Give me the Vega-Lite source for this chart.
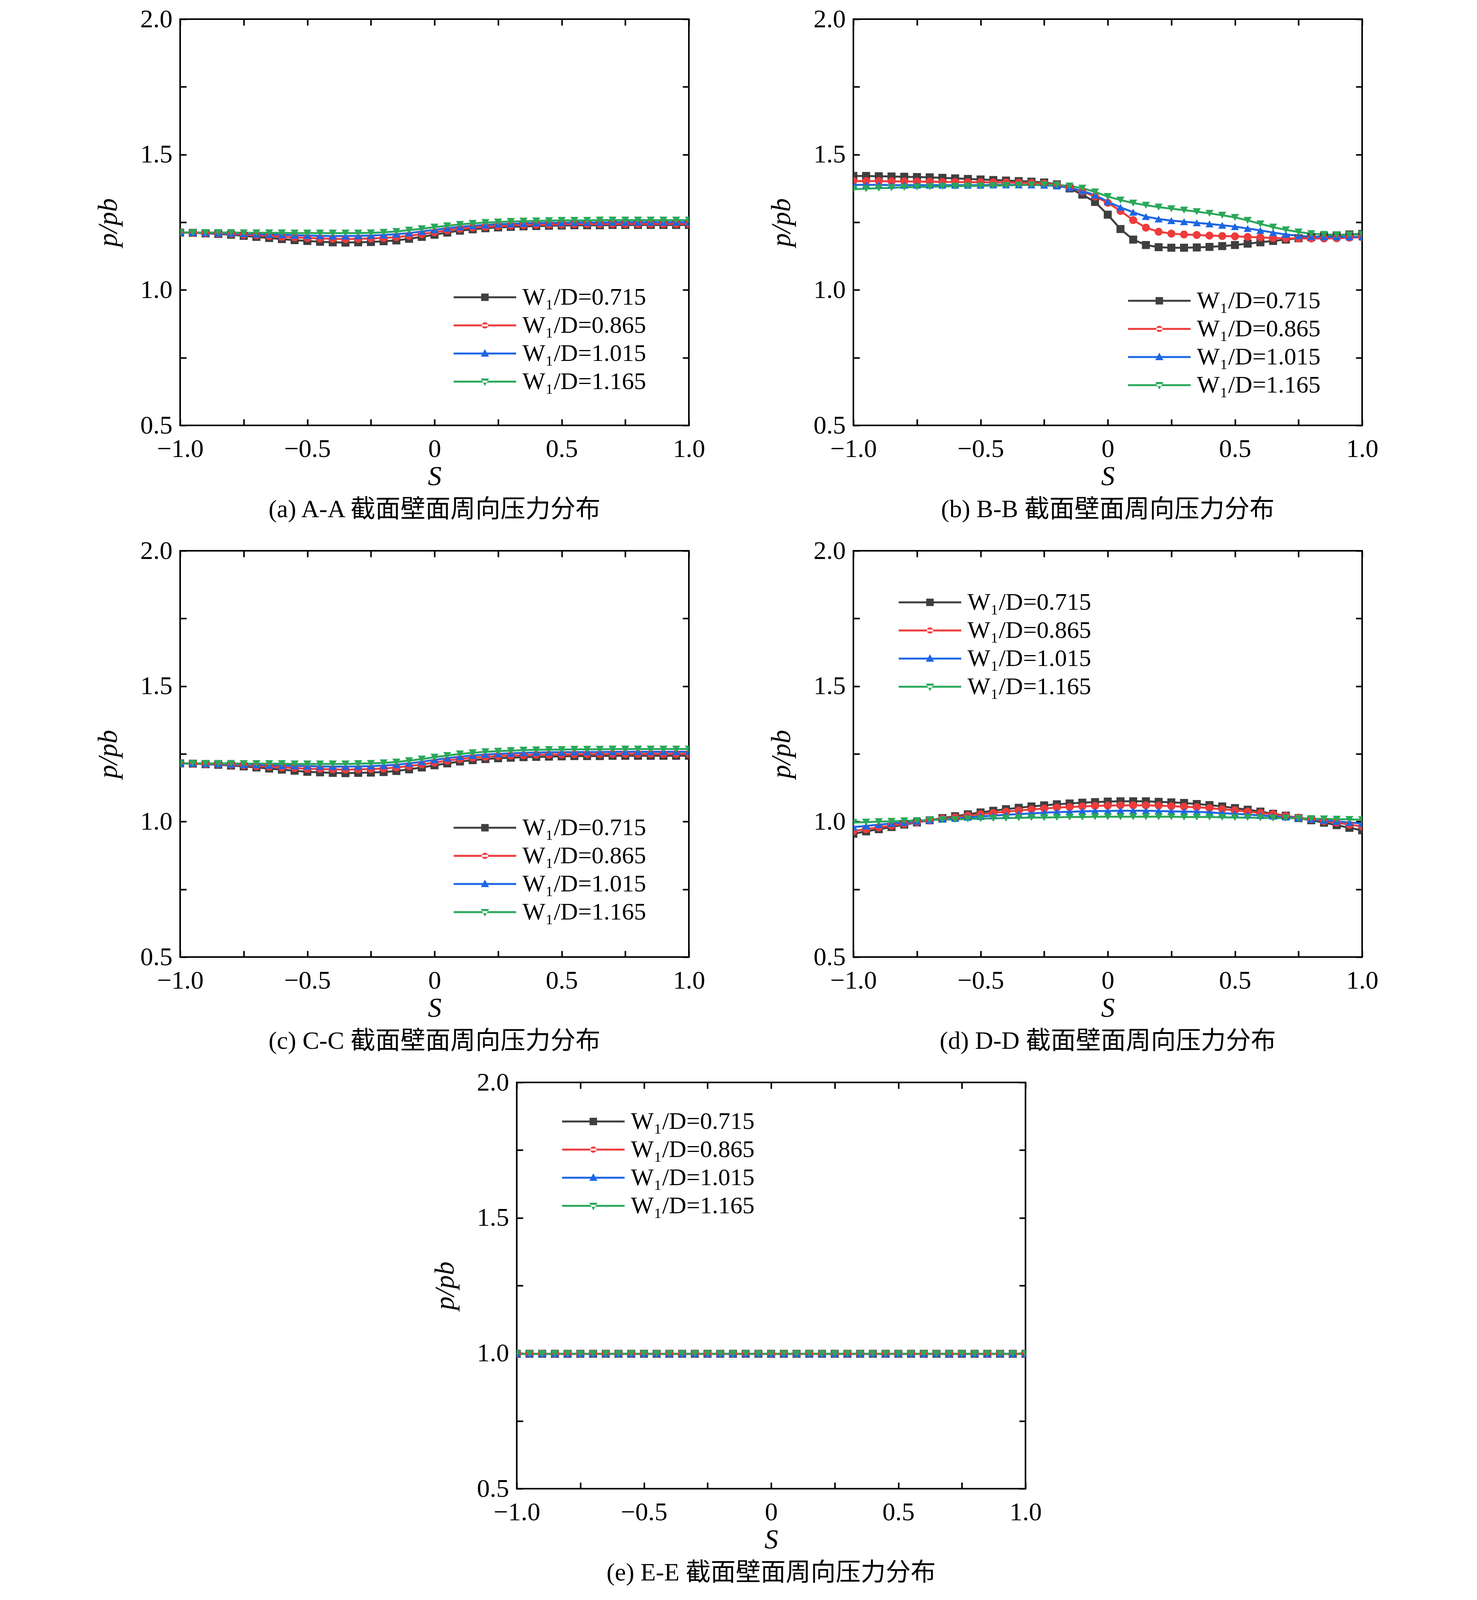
{
  "$schema": "https://vega.github.io/schema/vega-lite/v6.json",
  "background": "white",
  "padding": {"left": 240, "top": 14, "right": 150, "bottom": 0},
  "data": {
    "values": [
      {"p":"a","w":"0.715","s":-1,"v":1.212},{"p":"a","w":"0.715","s":-0.95,"v":1.211},{"p":"a","w":"0.715","s":-0.9,"v":1.209},{"p":"a","w":"0.715","s":-0.85,"v":1.207},{"p":"a","w":"0.715","s":-0.8,"v":1.204},{"p":"a","w":"0.715","s":-0.75,"v":1.2},{"p":"a","w":"0.715","s":-0.7,"v":1.196},{"p":"a","w":"0.715","s":-0.65,"v":1.192},{"p":"a","w":"0.715","s":-0.6,"v":1.188},{"p":"a","w":"0.715","s":-0.55,"v":1.184},{"p":"a","w":"0.715","s":-0.5,"v":1.181},{"p":"a","w":"0.715","s":-0.45,"v":1.178},{"p":"a","w":"0.715","s":-0.4,"v":1.176},{"p":"a","w":"0.715","s":-0.35,"v":1.175},{"p":"a","w":"0.715","s":-0.3,"v":1.176},{"p":"a","w":"0.715","s":-0.25,"v":1.177},{"p":"a","w":"0.715","s":-0.2,"v":1.18},{"p":"a","w":"0.715","s":-0.15,"v":1.183},{"p":"a","w":"0.715","s":-0.1,"v":1.189},{"p":"a","w":"0.715","s":-0.05,"v":1.196},{"p":"a","w":"0.715","s":0,"v":1.204},{"p":"a","w":"0.715","s":0.05,"v":1.212},{"p":"a","w":"0.715","s":0.1,"v":1.219},{"p":"a","w":"0.715","s":0.15,"v":1.224},{"p":"a","w":"0.715","s":0.2,"v":1.228},{"p":"a","w":"0.715","s":0.25,"v":1.231},{"p":"a","w":"0.715","s":0.3,"v":1.233},{"p":"a","w":"0.715","s":0.35,"v":1.235},{"p":"a","w":"0.715","s":0.4,"v":1.236},{"p":"a","w":"0.715","s":0.45,"v":1.237},{"p":"a","w":"0.715","s":0.5,"v":1.238},{"p":"a","w":"0.715","s":0.55,"v":1.239},{"p":"a","w":"0.715","s":0.6,"v":1.239},{"p":"a","w":"0.715","s":0.65,"v":1.239},{"p":"a","w":"0.715","s":0.7,"v":1.24},{"p":"a","w":"0.715","s":0.75,"v":1.24},{"p":"a","w":"0.715","s":0.8,"v":1.24},{"p":"a","w":"0.715","s":0.85,"v":1.24},{"p":"a","w":"0.715","s":0.9,"v":1.24},{"p":"a","w":"0.715","s":0.95,"v":1.24},{"p":"a","w":"0.715","s":1,"v":1.24},
      {"p":"a","w":"0.865","s":-1,"v":1.212},{"p":"a","w":"0.865","s":-0.95,"v":1.211},{"p":"a","w":"0.865","s":-0.9,"v":1.21},{"p":"a","w":"0.865","s":-0.85,"v":1.209},{"p":"a","w":"0.865","s":-0.8,"v":1.207},{"p":"a","w":"0.865","s":-0.75,"v":1.204},{"p":"a","w":"0.865","s":-0.7,"v":1.202},{"p":"a","w":"0.865","s":-0.65,"v":1.199},{"p":"a","w":"0.865","s":-0.6,"v":1.196},{"p":"a","w":"0.865","s":-0.55,"v":1.194},{"p":"a","w":"0.865","s":-0.5,"v":1.192},{"p":"a","w":"0.865","s":-0.45,"v":1.19},{"p":"a","w":"0.865","s":-0.4,"v":1.189},{"p":"a","w":"0.865","s":-0.35,"v":1.188},{"p":"a","w":"0.865","s":-0.3,"v":1.189},{"p":"a","w":"0.865","s":-0.25,"v":1.19},{"p":"a","w":"0.865","s":-0.2,"v":1.192},{"p":"a","w":"0.865","s":-0.15,"v":1.195},{"p":"a","w":"0.865","s":-0.1,"v":1.2},{"p":"a","w":"0.865","s":-0.05,"v":1.206},{"p":"a","w":"0.865","s":0,"v":1.213},{"p":"a","w":"0.865","s":0.05,"v":1.22},{"p":"a","w":"0.865","s":0.1,"v":1.226},{"p":"a","w":"0.865","s":0.15,"v":1.23},{"p":"a","w":"0.865","s":0.2,"v":1.233},{"p":"a","w":"0.865","s":0.25,"v":1.236},{"p":"a","w":"0.865","s":0.3,"v":1.238},{"p":"a","w":"0.865","s":0.35,"v":1.24},{"p":"a","w":"0.865","s":0.4,"v":1.241},{"p":"a","w":"0.865","s":0.45,"v":1.241},{"p":"a","w":"0.865","s":0.5,"v":1.242},{"p":"a","w":"0.865","s":0.55,"v":1.243},{"p":"a","w":"0.865","s":0.6,"v":1.243},{"p":"a","w":"0.865","s":0.65,"v":1.243},{"p":"a","w":"0.865","s":0.7,"v":1.244},{"p":"a","w":"0.865","s":0.75,"v":1.244},{"p":"a","w":"0.865","s":0.8,"v":1.244},{"p":"a","w":"0.865","s":0.85,"v":1.244},{"p":"a","w":"0.865","s":0.9,"v":1.244},{"p":"a","w":"0.865","s":0.95,"v":1.244},{"p":"a","w":"0.865","s":1,"v":1.244},
      {"p":"a","w":"1.015","s":-1,"v":1.212},{"p":"a","w":"1.015","s":-0.95,"v":1.212},{"p":"a","w":"1.015","s":-0.9,"v":1.211},{"p":"a","w":"1.015","s":-0.85,"v":1.21},{"p":"a","w":"1.015","s":-0.8,"v":1.209},{"p":"a","w":"1.015","s":-0.75,"v":1.208},{"p":"a","w":"1.015","s":-0.7,"v":1.206},{"p":"a","w":"1.015","s":-0.65,"v":1.205},{"p":"a","w":"1.015","s":-0.6,"v":1.204},{"p":"a","w":"1.015","s":-0.55,"v":1.202},{"p":"a","w":"1.015","s":-0.5,"v":1.201},{"p":"a","w":"1.015","s":-0.45,"v":1.2},{"p":"a","w":"1.015","s":-0.4,"v":1.199},{"p":"a","w":"1.015","s":-0.35,"v":1.199},{"p":"a","w":"1.015","s":-0.3,"v":1.2},{"p":"a","w":"1.015","s":-0.25,"v":1.201},{"p":"a","w":"1.015","s":-0.2,"v":1.203},{"p":"a","w":"1.015","s":-0.15,"v":1.206},{"p":"a","w":"1.015","s":-0.1,"v":1.21},{"p":"a","w":"1.015","s":-0.05,"v":1.216},{"p":"a","w":"1.015","s":0,"v":1.222},{"p":"a","w":"1.015","s":0.05,"v":1.228},{"p":"a","w":"1.015","s":0.1,"v":1.233},{"p":"a","w":"1.015","s":0.15,"v":1.237},{"p":"a","w":"1.015","s":0.2,"v":1.24},{"p":"a","w":"1.015","s":0.25,"v":1.243},{"p":"a","w":"1.015","s":0.3,"v":1.244},{"p":"a","w":"1.015","s":0.35,"v":1.246},{"p":"a","w":"1.015","s":0.4,"v":1.247},{"p":"a","w":"1.015","s":0.45,"v":1.248},{"p":"a","w":"1.015","s":0.5,"v":1.248},{"p":"a","w":"1.015","s":0.55,"v":1.249},{"p":"a","w":"1.015","s":0.6,"v":1.249},{"p":"a","w":"1.015","s":0.65,"v":1.249},{"p":"a","w":"1.015","s":0.7,"v":1.25},{"p":"a","w":"1.015","s":0.75,"v":1.25},{"p":"a","w":"1.015","s":0.8,"v":1.25},{"p":"a","w":"1.015","s":0.85,"v":1.25},{"p":"a","w":"1.015","s":0.9,"v":1.25},{"p":"a","w":"1.015","s":0.95,"v":1.25},{"p":"a","w":"1.015","s":1,"v":1.25},
      {"p":"a","w":"1.165","s":-1,"v":1.212},{"p":"a","w":"1.165","s":-0.95,"v":1.212},{"p":"a","w":"1.165","s":-0.9,"v":1.212},{"p":"a","w":"1.165","s":-0.85,"v":1.212},{"p":"a","w":"1.165","s":-0.8,"v":1.212},{"p":"a","w":"1.165","s":-0.75,"v":1.211},{"p":"a","w":"1.165","s":-0.7,"v":1.211},{"p":"a","w":"1.165","s":-0.65,"v":1.211},{"p":"a","w":"1.165","s":-0.6,"v":1.211},{"p":"a","w":"1.165","s":-0.55,"v":1.21},{"p":"a","w":"1.165","s":-0.5,"v":1.21},{"p":"a","w":"1.165","s":-0.45,"v":1.21},{"p":"a","w":"1.165","s":-0.4,"v":1.21},{"p":"a","w":"1.165","s":-0.35,"v":1.21},{"p":"a","w":"1.165","s":-0.3,"v":1.21},{"p":"a","w":"1.165","s":-0.25,"v":1.211},{"p":"a","w":"1.165","s":-0.2,"v":1.213},{"p":"a","w":"1.165","s":-0.15,"v":1.216},{"p":"a","w":"1.165","s":-0.1,"v":1.221},{"p":"a","w":"1.165","s":-0.05,"v":1.226},{"p":"a","w":"1.165","s":0,"v":1.232},{"p":"a","w":"1.165","s":0.05,"v":1.237},{"p":"a","w":"1.165","s":0.1,"v":1.242},{"p":"a","w":"1.165","s":0.15,"v":1.246},{"p":"a","w":"1.165","s":0.2,"v":1.249},{"p":"a","w":"1.165","s":0.25,"v":1.251},{"p":"a","w":"1.165","s":0.3,"v":1.253},{"p":"a","w":"1.165","s":0.35,"v":1.254},{"p":"a","w":"1.165","s":0.4,"v":1.255},{"p":"a","w":"1.165","s":0.45,"v":1.256},{"p":"a","w":"1.165","s":0.5,"v":1.257},{"p":"a","w":"1.165","s":0.55,"v":1.257},{"p":"a","w":"1.165","s":0.6,"v":1.257},{"p":"a","w":"1.165","s":0.65,"v":1.258},{"p":"a","w":"1.165","s":0.7,"v":1.258},{"p":"a","w":"1.165","s":0.75,"v":1.258},{"p":"a","w":"1.165","s":0.8,"v":1.258},{"p":"a","w":"1.165","s":0.85,"v":1.258},{"p":"a","w":"1.165","s":0.9,"v":1.258},{"p":"a","w":"1.165","s":0.95,"v":1.258},{"p":"a","w":"1.165","s":1,"v":1.258},
      {"p":"b","w":"0.715","s":-1,"v":1.421},{"p":"b","w":"0.715","s":-0.95,"v":1.421},{"p":"b","w":"0.715","s":-0.9,"v":1.42},{"p":"b","w":"0.715","s":-0.85,"v":1.419},{"p":"b","w":"0.715","s":-0.8,"v":1.418},{"p":"b","w":"0.715","s":-0.75,"v":1.417},{"p":"b","w":"0.715","s":-0.7,"v":1.416},{"p":"b","w":"0.715","s":-0.65,"v":1.414},{"p":"b","w":"0.715","s":-0.6,"v":1.412},{"p":"b","w":"0.715","s":-0.55,"v":1.41},{"p":"b","w":"0.715","s":-0.5,"v":1.408},{"p":"b","w":"0.715","s":-0.45,"v":1.406},{"p":"b","w":"0.715","s":-0.4,"v":1.404},{"p":"b","w":"0.715","s":-0.35,"v":1.402},{"p":"b","w":"0.715","s":-0.3,"v":1.4},{"p":"b","w":"0.715","s":-0.25,"v":1.397},{"p":"b","w":"0.715","s":-0.2,"v":1.39},{"p":"b","w":"0.715","s":-0.15,"v":1.375},{"p":"b","w":"0.715","s":-0.1,"v":1.352},{"p":"b","w":"0.715","s":-0.05,"v":1.325},{"p":"b","w":"0.715","s":0,"v":1.278},{"p":"b","w":"0.715","s":0.05,"v":1.225},{"p":"b","w":"0.715","s":0.1,"v":1.186},{"p":"b","w":"0.715","s":0.15,"v":1.166},{"p":"b","w":"0.715","s":0.2,"v":1.158},{"p":"b","w":"0.715","s":0.25,"v":1.156},{"p":"b","w":"0.715","s":0.3,"v":1.156},{"p":"b","w":"0.715","s":0.35,"v":1.157},{"p":"b","w":"0.715","s":0.4,"v":1.159},{"p":"b","w":"0.715","s":0.45,"v":1.162},{"p":"b","w":"0.715","s":0.5,"v":1.166},{"p":"b","w":"0.715","s":0.55,"v":1.171},{"p":"b","w":"0.715","s":0.6,"v":1.176},{"p":"b","w":"0.715","s":0.65,"v":1.181},{"p":"b","w":"0.715","s":0.7,"v":1.186},{"p":"b","w":"0.715","s":0.75,"v":1.191},{"p":"b","w":"0.715","s":0.8,"v":1.195},{"p":"b","w":"0.715","s":0.85,"v":1.199},{"p":"b","w":"0.715","s":0.9,"v":1.202},{"p":"b","w":"0.715","s":0.95,"v":1.205},{"p":"b","w":"0.715","s":1,"v":1.207},
      {"p":"b","w":"0.865","s":-1,"v":1.402},{"p":"b","w":"0.865","s":-0.95,"v":1.402},{"p":"b","w":"0.865","s":-0.9,"v":1.402},{"p":"b","w":"0.865","s":-0.85,"v":1.401},{"p":"b","w":"0.865","s":-0.8,"v":1.401},{"p":"b","w":"0.865","s":-0.75,"v":1.4},{"p":"b","w":"0.865","s":-0.7,"v":1.4},{"p":"b","w":"0.865","s":-0.65,"v":1.399},{"p":"b","w":"0.865","s":-0.6,"v":1.399},{"p":"b","w":"0.865","s":-0.55,"v":1.398},{"p":"b","w":"0.865","s":-0.5,"v":1.398},{"p":"b","w":"0.865","s":-0.45,"v":1.397},{"p":"b","w":"0.865","s":-0.4,"v":1.397},{"p":"b","w":"0.865","s":-0.35,"v":1.396},{"p":"b","w":"0.865","s":-0.3,"v":1.395},{"p":"b","w":"0.865","s":-0.25,"v":1.393},{"p":"b","w":"0.865","s":-0.2,"v":1.388},{"p":"b","w":"0.865","s":-0.15,"v":1.378},{"p":"b","w":"0.865","s":-0.1,"v":1.364},{"p":"b","w":"0.865","s":-0.05,"v":1.345},{"p":"b","w":"0.865","s":0,"v":1.322},{"p":"b","w":"0.865","s":0.05,"v":1.292},{"p":"b","w":"0.865","s":0.1,"v":1.258},{"p":"b","w":"0.865","s":0.15,"v":1.23},{"p":"b","w":"0.865","s":0.2,"v":1.215},{"p":"b","w":"0.865","s":0.25,"v":1.208},{"p":"b","w":"0.865","s":0.3,"v":1.205},{"p":"b","w":"0.865","s":0.35,"v":1.203},{"p":"b","w":"0.865","s":0.4,"v":1.201},{"p":"b","w":"0.865","s":0.45,"v":1.199},{"p":"b","w":"0.865","s":0.5,"v":1.198},{"p":"b","w":"0.865","s":0.55,"v":1.196},{"p":"b","w":"0.865","s":0.6,"v":1.194},{"p":"b","w":"0.865","s":0.65,"v":1.192},{"p":"b","w":"0.865","s":0.7,"v":1.191},{"p":"b","w":"0.865","s":0.75,"v":1.19},{"p":"b","w":"0.865","s":0.8,"v":1.19},{"p":"b","w":"0.865","s":0.85,"v":1.19},{"p":"b","w":"0.865","s":0.9,"v":1.191},{"p":"b","w":"0.865","s":0.95,"v":1.193},{"p":"b","w":"0.865","s":1,"v":1.195},
      {"p":"b","w":"1.015","s":-1,"v":1.388},{"p":"b","w":"1.015","s":-0.95,"v":1.388},{"p":"b","w":"1.015","s":-0.9,"v":1.388},{"p":"b","w":"1.015","s":-0.85,"v":1.387},{"p":"b","w":"1.015","s":-0.8,"v":1.387},{"p":"b","w":"1.015","s":-0.75,"v":1.387},{"p":"b","w":"1.015","s":-0.7,"v":1.387},{"p":"b","w":"1.015","s":-0.65,"v":1.387},{"p":"b","w":"1.015","s":-0.6,"v":1.387},{"p":"b","w":"1.015","s":-0.55,"v":1.387},{"p":"b","w":"1.015","s":-0.5,"v":1.387},{"p":"b","w":"1.015","s":-0.45,"v":1.388},{"p":"b","w":"1.015","s":-0.4,"v":1.388},{"p":"b","w":"1.015","s":-0.35,"v":1.388},{"p":"b","w":"1.015","s":-0.3,"v":1.388},{"p":"b","w":"1.015","s":-0.25,"v":1.387},{"p":"b","w":"1.015","s":-0.2,"v":1.384},{"p":"b","w":"1.015","s":-0.15,"v":1.377},{"p":"b","w":"1.015","s":-0.1,"v":1.366},{"p":"b","w":"1.015","s":-0.05,"v":1.35},{"p":"b","w":"1.015","s":0,"v":1.326},{"p":"b","w":"1.015","s":0.05,"v":1.305},{"p":"b","w":"1.015","s":0.1,"v":1.287},{"p":"b","w":"1.015","s":0.15,"v":1.271},{"p":"b","w":"1.015","s":0.2,"v":1.262},{"p":"b","w":"1.015","s":0.25,"v":1.256},{"p":"b","w":"1.015","s":0.3,"v":1.252},{"p":"b","w":"1.015","s":0.35,"v":1.248},{"p":"b","w":"1.015","s":0.4,"v":1.244},{"p":"b","w":"1.015","s":0.45,"v":1.239},{"p":"b","w":"1.015","s":0.5,"v":1.234},{"p":"b","w":"1.015","s":0.55,"v":1.227},{"p":"b","w":"1.015","s":0.6,"v":1.22},{"p":"b","w":"1.015","s":0.65,"v":1.212},{"p":"b","w":"1.015","s":0.7,"v":1.205},{"p":"b","w":"1.015","s":0.75,"v":1.2},{"p":"b","w":"1.015","s":0.8,"v":1.197},{"p":"b","w":"1.015","s":0.85,"v":1.196},{"p":"b","w":"1.015","s":0.9,"v":1.196},{"p":"b","w":"1.015","s":0.95,"v":1.196},{"p":"b","w":"1.015","s":1,"v":1.196},
      {"p":"b","w":"1.165","s":-1,"v":1.372},{"p":"b","w":"1.165","s":-0.95,"v":1.374},{"p":"b","w":"1.165","s":-0.9,"v":1.376},{"p":"b","w":"1.165","s":-0.85,"v":1.377},{"p":"b","w":"1.165","s":-0.8,"v":1.379},{"p":"b","w":"1.165","s":-0.75,"v":1.38},{"p":"b","w":"1.165","s":-0.7,"v":1.381},{"p":"b","w":"1.165","s":-0.65,"v":1.382},{"p":"b","w":"1.165","s":-0.6,"v":1.383},{"p":"b","w":"1.165","s":-0.55,"v":1.384},{"p":"b","w":"1.165","s":-0.5,"v":1.384},{"p":"b","w":"1.165","s":-0.45,"v":1.385},{"p":"b","w":"1.165","s":-0.4,"v":1.386},{"p":"b","w":"1.165","s":-0.35,"v":1.387},{"p":"b","w":"1.165","s":-0.3,"v":1.388},{"p":"b","w":"1.165","s":-0.25,"v":1.389},{"p":"b","w":"1.165","s":-0.2,"v":1.388},{"p":"b","w":"1.165","s":-0.15,"v":1.384},{"p":"b","w":"1.165","s":-0.1,"v":1.376},{"p":"b","w":"1.165","s":-0.05,"v":1.362},{"p":"b","w":"1.165","s":0,"v":1.345},{"p":"b","w":"1.165","s":0.05,"v":1.332},{"p":"b","w":"1.165","s":0.1,"v":1.321},{"p":"b","w":"1.165","s":0.15,"v":1.313},{"p":"b","w":"1.165","s":0.2,"v":1.306},{"p":"b","w":"1.165","s":0.25,"v":1.3},{"p":"b","w":"1.165","s":0.3,"v":1.295},{"p":"b","w":"1.165","s":0.35,"v":1.289},{"p":"b","w":"1.165","s":0.4,"v":1.283},{"p":"b","w":"1.165","s":0.45,"v":1.276},{"p":"b","w":"1.165","s":0.5,"v":1.268},{"p":"b","w":"1.165","s":0.55,"v":1.257},{"p":"b","w":"1.165","s":0.6,"v":1.244},{"p":"b","w":"1.165","s":0.65,"v":1.232},{"p":"b","w":"1.165","s":0.7,"v":1.222},{"p":"b","w":"1.165","s":0.75,"v":1.214},{"p":"b","w":"1.165","s":0.8,"v":1.208},{"p":"b","w":"1.165","s":0.85,"v":1.205},{"p":"b","w":"1.165","s":0.9,"v":1.204},{"p":"b","w":"1.165","s":0.95,"v":1.204},{"p":"b","w":"1.165","s":1,"v":1.205},
      {"p":"c","w":"0.715","s":-1,"v":1.215},{"p":"c","w":"0.715","s":-0.95,"v":1.214},{"p":"c","w":"0.715","s":-0.9,"v":1.212},{"p":"c","w":"0.715","s":-0.85,"v":1.21},{"p":"c","w":"0.715","s":-0.8,"v":1.207},{"p":"c","w":"0.715","s":-0.75,"v":1.204},{"p":"c","w":"0.715","s":-0.7,"v":1.2},{"p":"c","w":"0.715","s":-0.65,"v":1.196},{"p":"c","w":"0.715","s":-0.6,"v":1.192},{"p":"c","w":"0.715","s":-0.55,"v":1.188},{"p":"c","w":"0.715","s":-0.5,"v":1.184},{"p":"c","w":"0.715","s":-0.45,"v":1.182},{"p":"c","w":"0.715","s":-0.4,"v":1.18},{"p":"c","w":"0.715","s":-0.35,"v":1.179},{"p":"c","w":"0.715","s":-0.3,"v":1.18},{"p":"c","w":"0.715","s":-0.25,"v":1.181},{"p":"c","w":"0.715","s":-0.2,"v":1.183},{"p":"c","w":"0.715","s":-0.15,"v":1.187},{"p":"c","w":"0.715","s":-0.1,"v":1.193},{"p":"c","w":"0.715","s":-0.05,"v":1.2},{"p":"c","w":"0.715","s":0,"v":1.208},{"p":"c","w":"0.715","s":0.05,"v":1.215},{"p":"c","w":"0.715","s":0.1,"v":1.222},{"p":"c","w":"0.715","s":0.15,"v":1.227},{"p":"c","w":"0.715","s":0.2,"v":1.231},{"p":"c","w":"0.715","s":0.25,"v":1.234},{"p":"c","w":"0.715","s":0.3,"v":1.236},{"p":"c","w":"0.715","s":0.35,"v":1.238},{"p":"c","w":"0.715","s":0.4,"v":1.239},{"p":"c","w":"0.715","s":0.45,"v":1.24},{"p":"c","w":"0.715","s":0.5,"v":1.241},{"p":"c","w":"0.715","s":0.55,"v":1.242},{"p":"c","w":"0.715","s":0.6,"v":1.242},{"p":"c","w":"0.715","s":0.65,"v":1.242},{"p":"c","w":"0.715","s":0.7,"v":1.243},{"p":"c","w":"0.715","s":0.75,"v":1.243},{"p":"c","w":"0.715","s":0.8,"v":1.243},{"p":"c","w":"0.715","s":0.85,"v":1.243},{"p":"c","w":"0.715","s":0.9,"v":1.243},{"p":"c","w":"0.715","s":0.95,"v":1.243},{"p":"c","w":"0.715","s":1,"v":1.243},
      {"p":"c","w":"0.865","s":-1,"v":1.215},{"p":"c","w":"0.865","s":-0.95,"v":1.214},{"p":"c","w":"0.865","s":-0.9,"v":1.213},{"p":"c","w":"0.865","s":-0.85,"v":1.212},{"p":"c","w":"0.865","s":-0.8,"v":1.21},{"p":"c","w":"0.865","s":-0.75,"v":1.208},{"p":"c","w":"0.865","s":-0.7,"v":1.205},{"p":"c","w":"0.865","s":-0.65,"v":1.203},{"p":"c","w":"0.865","s":-0.6,"v":1.2},{"p":"c","w":"0.865","s":-0.55,"v":1.198},{"p":"c","w":"0.865","s":-0.5,"v":1.195},{"p":"c","w":"0.865","s":-0.45,"v":1.194},{"p":"c","w":"0.865","s":-0.4,"v":1.193},{"p":"c","w":"0.865","s":-0.35,"v":1.192},{"p":"c","w":"0.865","s":-0.3,"v":1.193},{"p":"c","w":"0.865","s":-0.25,"v":1.194},{"p":"c","w":"0.865","s":-0.2,"v":1.196},{"p":"c","w":"0.865","s":-0.15,"v":1.2},{"p":"c","w":"0.865","s":-0.1,"v":1.205},{"p":"c","w":"0.865","s":-0.05,"v":1.211},{"p":"c","w":"0.865","s":0,"v":1.218},{"p":"c","w":"0.865","s":0.05,"v":1.225},{"p":"c","w":"0.865","s":0.1,"v":1.231},{"p":"c","w":"0.865","s":0.15,"v":1.236},{"p":"c","w":"0.865","s":0.2,"v":1.239},{"p":"c","w":"0.865","s":0.25,"v":1.242},{"p":"c","w":"0.865","s":0.3,"v":1.244},{"p":"c","w":"0.865","s":0.35,"v":1.245},{"p":"c","w":"0.865","s":0.4,"v":1.247},{"p":"c","w":"0.865","s":0.45,"v":1.247},{"p":"c","w":"0.865","s":0.5,"v":1.248},{"p":"c","w":"0.865","s":0.55,"v":1.249},{"p":"c","w":"0.865","s":0.6,"v":1.249},{"p":"c","w":"0.865","s":0.65,"v":1.249},{"p":"c","w":"0.865","s":0.7,"v":1.25},{"p":"c","w":"0.865","s":0.75,"v":1.25},{"p":"c","w":"0.865","s":0.8,"v":1.25},{"p":"c","w":"0.865","s":0.85,"v":1.25},{"p":"c","w":"0.865","s":0.9,"v":1.25},{"p":"c","w":"0.865","s":0.95,"v":1.25},{"p":"c","w":"0.865","s":1,"v":1.25},
      {"p":"c","w":"1.015","s":-1,"v":1.215},{"p":"c","w":"1.015","s":-0.95,"v":1.215},{"p":"c","w":"1.015","s":-0.9,"v":1.214},{"p":"c","w":"1.015","s":-0.85,"v":1.213},{"p":"c","w":"1.015","s":-0.8,"v":1.212},{"p":"c","w":"1.015","s":-0.75,"v":1.211},{"p":"c","w":"1.015","s":-0.7,"v":1.21},{"p":"c","w":"1.015","s":-0.65,"v":1.208},{"p":"c","w":"1.015","s":-0.6,"v":1.207},{"p":"c","w":"1.015","s":-0.55,"v":1.206},{"p":"c","w":"1.015","s":-0.5,"v":1.205},{"p":"c","w":"1.015","s":-0.45,"v":1.204},{"p":"c","w":"1.015","s":-0.4,"v":1.203},{"p":"c","w":"1.015","s":-0.35,"v":1.203},{"p":"c","w":"1.015","s":-0.3,"v":1.204},{"p":"c","w":"1.015","s":-0.25,"v":1.205},{"p":"c","w":"1.015","s":-0.2,"v":1.207},{"p":"c","w":"1.015","s":-0.15,"v":1.21},{"p":"c","w":"1.015","s":-0.1,"v":1.215},{"p":"c","w":"1.015","s":-0.05,"v":1.221},{"p":"c","w":"1.015","s":0,"v":1.228},{"p":"c","w":"1.015","s":0.05,"v":1.234},{"p":"c","w":"1.015","s":0.1,"v":1.24},{"p":"c","w":"1.015","s":0.15,"v":1.244},{"p":"c","w":"1.015","s":0.2,"v":1.248},{"p":"c","w":"1.015","s":0.25,"v":1.25},{"p":"c","w":"1.015","s":0.3,"v":1.252},{"p":"c","w":"1.015","s":0.35,"v":1.254},{"p":"c","w":"1.015","s":0.4,"v":1.255},{"p":"c","w":"1.015","s":0.45,"v":1.256},{"p":"c","w":"1.015","s":0.5,"v":1.256},{"p":"c","w":"1.015","s":0.55,"v":1.257},{"p":"c","w":"1.015","s":0.6,"v":1.257},{"p":"c","w":"1.015","s":0.65,"v":1.257},{"p":"c","w":"1.015","s":0.7,"v":1.258},{"p":"c","w":"1.015","s":0.75,"v":1.258},{"p":"c","w":"1.015","s":0.8,"v":1.258},{"p":"c","w":"1.015","s":0.85,"v":1.258},{"p":"c","w":"1.015","s":0.9,"v":1.258},{"p":"c","w":"1.015","s":0.95,"v":1.258},{"p":"c","w":"1.015","s":1,"v":1.258},
      {"p":"c","w":"1.165","s":-1,"v":1.215},{"p":"c","w":"1.165","s":-0.95,"v":1.215},{"p":"c","w":"1.165","s":-0.9,"v":1.215},{"p":"c","w":"1.165","s":-0.85,"v":1.215},{"p":"c","w":"1.165","s":-0.8,"v":1.215},{"p":"c","w":"1.165","s":-0.75,"v":1.214},{"p":"c","w":"1.165","s":-0.7,"v":1.214},{"p":"c","w":"1.165","s":-0.65,"v":1.214},{"p":"c","w":"1.165","s":-0.6,"v":1.214},{"p":"c","w":"1.165","s":-0.55,"v":1.213},{"p":"c","w":"1.165","s":-0.5,"v":1.213},{"p":"c","w":"1.165","s":-0.45,"v":1.213},{"p":"c","w":"1.165","s":-0.4,"v":1.213},{"p":"c","w":"1.165","s":-0.35,"v":1.213},{"p":"c","w":"1.165","s":-0.3,"v":1.214},{"p":"c","w":"1.165","s":-0.25,"v":1.215},{"p":"c","w":"1.165","s":-0.2,"v":1.217},{"p":"c","w":"1.165","s":-0.15,"v":1.22},{"p":"c","w":"1.165","s":-0.1,"v":1.225},{"p":"c","w":"1.165","s":-0.05,"v":1.231},{"p":"c","w":"1.165","s":0,"v":1.238},{"p":"c","w":"1.165","s":0.05,"v":1.244},{"p":"c","w":"1.165","s":0.1,"v":1.25},{"p":"c","w":"1.165","s":0.15,"v":1.254},{"p":"c","w":"1.165","s":0.2,"v":1.258},{"p":"c","w":"1.165","s":0.25,"v":1.26},{"p":"c","w":"1.165","s":0.3,"v":1.262},{"p":"c","w":"1.165","s":0.35,"v":1.264},{"p":"c","w":"1.165","s":0.4,"v":1.265},{"p":"c","w":"1.165","s":0.45,"v":1.266},{"p":"c","w":"1.165","s":0.5,"v":1.266},{"p":"c","w":"1.165","s":0.55,"v":1.267},{"p":"c","w":"1.165","s":0.6,"v":1.267},{"p":"c","w":"1.165","s":0.65,"v":1.267},{"p":"c","w":"1.165","s":0.7,"v":1.268},{"p":"c","w":"1.165","s":0.75,"v":1.268},{"p":"c","w":"1.165","s":0.8,"v":1.268},{"p":"c","w":"1.165","s":0.85,"v":1.268},{"p":"c","w":"1.165","s":0.9,"v":1.268},{"p":"c","w":"1.165","s":0.95,"v":1.268},{"p":"c","w":"1.165","s":1,"v":1.268},
      {"p":"d","w":"0.715","s":-1,"v":0.955},{"p":"d","w":"0.715","s":-0.95,"v":0.964},{"p":"d","w":"0.715","s":-0.9,"v":0.972},{"p":"d","w":"0.715","s":-0.85,"v":0.98},{"p":"d","w":"0.715","s":-0.8,"v":0.989},{"p":"d","w":"0.715","s":-0.75,"v":0.997},{"p":"d","w":"0.715","s":-0.7,"v":1.005},{"p":"d","w":"0.715","s":-0.65,"v":1.013},{"p":"d","w":"0.715","s":-0.6,"v":1.02},{"p":"d","w":"0.715","s":-0.55,"v":1.027},{"p":"d","w":"0.715","s":-0.5,"v":1.034},{"p":"d","w":"0.715","s":-0.45,"v":1.04},{"p":"d","w":"0.715","s":-0.4,"v":1.046},{"p":"d","w":"0.715","s":-0.35,"v":1.051},{"p":"d","w":"0.715","s":-0.3,"v":1.056},{"p":"d","w":"0.715","s":-0.25,"v":1.06},{"p":"d","w":"0.715","s":-0.2,"v":1.064},{"p":"d","w":"0.715","s":-0.15,"v":1.067},{"p":"d","w":"0.715","s":-0.1,"v":1.07},{"p":"d","w":"0.715","s":-0.05,"v":1.072},{"p":"d","w":"0.715","s":0,"v":1.074},{"p":"d","w":"0.715","s":0.05,"v":1.075},{"p":"d","w":"0.715","s":0.1,"v":1.075},{"p":"d","w":"0.715","s":0.15,"v":1.075},{"p":"d","w":"0.715","s":0.2,"v":1.073},{"p":"d","w":"0.715","s":0.25,"v":1.071},{"p":"d","w":"0.715","s":0.3,"v":1.069},{"p":"d","w":"0.715","s":0.35,"v":1.065},{"p":"d","w":"0.715","s":0.4,"v":1.061},{"p":"d","w":"0.715","s":0.45,"v":1.056},{"p":"d","w":"0.715","s":0.5,"v":1.05},{"p":"d","w":"0.715","s":0.55,"v":1.044},{"p":"d","w":"0.715","s":0.6,"v":1.037},{"p":"d","w":"0.715","s":0.65,"v":1.029},{"p":"d","w":"0.715","s":0.7,"v":1.022},{"p":"d","w":"0.715","s":0.75,"v":1.013},{"p":"d","w":"0.715","s":0.8,"v":1.005},{"p":"d","w":"0.715","s":0.85,"v":0.996},{"p":"d","w":"0.715","s":0.9,"v":0.987},{"p":"d","w":"0.715","s":0.95,"v":0.977},{"p":"d","w":"0.715","s":1,"v":0.968},
      {"p":"d","w":"0.865","s":-1,"v":0.965},{"p":"d","w":"0.865","s":-0.95,"v":0.972},{"p":"d","w":"0.865","s":-0.9,"v":0.979},{"p":"d","w":"0.865","s":-0.85,"v":0.985},{"p":"d","w":"0.865","s":-0.8,"v":0.992},{"p":"d","w":"0.865","s":-0.75,"v":0.998},{"p":"d","w":"0.865","s":-0.7,"v":1.004},{"p":"d","w":"0.865","s":-0.65,"v":1.011},{"p":"d","w":"0.865","s":-0.6,"v":1.016},{"p":"d","w":"0.865","s":-0.55,"v":1.022},{"p":"d","w":"0.865","s":-0.5,"v":1.027},{"p":"d","w":"0.865","s":-0.45,"v":1.032},{"p":"d","w":"0.865","s":-0.4,"v":1.037},{"p":"d","w":"0.865","s":-0.35,"v":1.041},{"p":"d","w":"0.865","s":-0.3,"v":1.045},{"p":"d","w":"0.865","s":-0.25,"v":1.048},{"p":"d","w":"0.865","s":-0.2,"v":1.052},{"p":"d","w":"0.865","s":-0.15,"v":1.054},{"p":"d","w":"0.865","s":-0.1,"v":1.056},{"p":"d","w":"0.865","s":-0.05,"v":1.058},{"p":"d","w":"0.865","s":0,"v":1.059},{"p":"d","w":"0.865","s":0.05,"v":1.06},{"p":"d","w":"0.865","s":0.1,"v":1.06},{"p":"d","w":"0.865","s":0.15,"v":1.06},{"p":"d","w":"0.865","s":0.2,"v":1.059},{"p":"d","w":"0.865","s":0.25,"v":1.057},{"p":"d","w":"0.865","s":0.3,"v":1.055},{"p":"d","w":"0.865","s":0.35,"v":1.053},{"p":"d","w":"0.865","s":0.4,"v":1.05},{"p":"d","w":"0.865","s":0.45,"v":1.046},{"p":"d","w":"0.865","s":0.5,"v":1.042},{"p":"d","w":"0.865","s":0.55,"v":1.037},{"p":"d","w":"0.865","s":0.6,"v":1.032},{"p":"d","w":"0.865","s":0.65,"v":1.027},{"p":"d","w":"0.865","s":0.7,"v":1.021},{"p":"d","w":"0.865","s":0.75,"v":1.015},{"p":"d","w":"0.865","s":0.8,"v":1.009},{"p":"d","w":"0.865","s":0.85,"v":1.002},{"p":"d","w":"0.865","s":0.9,"v":0.996},{"p":"d","w":"0.865","s":0.95,"v":0.989},{"p":"d","w":"0.865","s":1,"v":0.982},
      {"p":"d","w":"1.015","s":-1,"v":0.98},{"p":"d","w":"1.015","s":-0.95,"v":0.984},{"p":"d","w":"1.015","s":-0.9,"v":0.989},{"p":"d","w":"1.015","s":-0.85,"v":0.993},{"p":"d","w":"1.015","s":-0.8,"v":0.997},{"p":"d","w":"1.015","s":-0.75,"v":1.001},{"p":"d","w":"1.015","s":-0.7,"v":1.005},{"p":"d","w":"1.015","s":-0.65,"v":1.009},{"p":"d","w":"1.015","s":-0.6,"v":1.012},{"p":"d","w":"1.015","s":-0.55,"v":1.016},{"p":"d","w":"1.015","s":-0.5,"v":1.019},{"p":"d","w":"1.015","s":-0.45,"v":1.022},{"p":"d","w":"1.015","s":-0.4,"v":1.025},{"p":"d","w":"1.015","s":-0.35,"v":1.028},{"p":"d","w":"1.015","s":-0.3,"v":1.03},{"p":"d","w":"1.015","s":-0.25,"v":1.033},{"p":"d","w":"1.015","s":-0.2,"v":1.035},{"p":"d","w":"1.015","s":-0.15,"v":1.036},{"p":"d","w":"1.015","s":-0.1,"v":1.038},{"p":"d","w":"1.015","s":-0.05,"v":1.039},{"p":"d","w":"1.015","s":0,"v":1.039},{"p":"d","w":"1.015","s":0.05,"v":1.04},{"p":"d","w":"1.015","s":0.1,"v":1.04},{"p":"d","w":"1.015","s":0.15,"v":1.04},{"p":"d","w":"1.015","s":0.2,"v":1.039},{"p":"d","w":"1.015","s":0.25,"v":1.038},{"p":"d","w":"1.015","s":0.3,"v":1.037},{"p":"d","w":"1.015","s":0.35,"v":1.036},{"p":"d","w":"1.015","s":0.4,"v":1.034},{"p":"d","w":"1.015","s":0.45,"v":1.031},{"p":"d","w":"1.015","s":0.5,"v":1.029},{"p":"d","w":"1.015","s":0.55,"v":1.026},{"p":"d","w":"1.015","s":0.6,"v":1.023},{"p":"d","w":"1.015","s":0.65,"v":1.02},{"p":"d","w":"1.015","s":0.7,"v":1.017},{"p":"d","w":"1.015","s":0.75,"v":1.013},{"p":"d","w":"1.015","s":0.8,"v":1.009},{"p":"d","w":"1.015","s":0.85,"v":1.005},{"p":"d","w":"1.015","s":0.9,"v":1.001},{"p":"d","w":"1.015","s":0.95,"v":0.997},{"p":"d","w":"1.015","s":1,"v":0.993},
      {"p":"d","w":"1.165","s":-1,"v":0.997},{"p":"d","w":"1.165","s":-0.95,"v":0.998},{"p":"d","w":"1.165","s":-0.9,"v":1},{"p":"d","w":"1.165","s":-0.85,"v":1.001},{"p":"d","w":"1.165","s":-0.8,"v":1.003},{"p":"d","w":"1.165","s":-0.75,"v":1.004},{"p":"d","w":"1.165","s":-0.7,"v":1.006},{"p":"d","w":"1.165","s":-0.65,"v":1.007},{"p":"d","w":"1.165","s":-0.6,"v":1.008},{"p":"d","w":"1.165","s":-0.55,"v":1.01},{"p":"d","w":"1.165","s":-0.5,"v":1.011},{"p":"d","w":"1.165","s":-0.45,"v":1.012},{"p":"d","w":"1.165","s":-0.4,"v":1.013},{"p":"d","w":"1.165","s":-0.35,"v":1.014},{"p":"d","w":"1.165","s":-0.3,"v":1.015},{"p":"d","w":"1.165","s":-0.25,"v":1.015},{"p":"d","w":"1.165","s":-0.2,"v":1.016},{"p":"d","w":"1.165","s":-0.15,"v":1.017},{"p":"d","w":"1.165","s":-0.1,"v":1.017},{"p":"d","w":"1.165","s":-0.05,"v":1.018},{"p":"d","w":"1.165","s":0,"v":1.018},{"p":"d","w":"1.165","s":0.05,"v":1.018},{"p":"d","w":"1.165","s":0.1,"v":1.018},{"p":"d","w":"1.165","s":0.15,"v":1.018},{"p":"d","w":"1.165","s":0.2,"v":1.018},{"p":"d","w":"1.165","s":0.25,"v":1.018},{"p":"d","w":"1.165","s":0.3,"v":1.017},{"p":"d","w":"1.165","s":0.35,"v":1.017},{"p":"d","w":"1.165","s":0.4,"v":1.017},{"p":"d","w":"1.165","s":0.45,"v":1.016},{"p":"d","w":"1.165","s":0.5,"v":1.015},{"p":"d","w":"1.165","s":0.55,"v":1.015},{"p":"d","w":"1.165","s":0.6,"v":1.014},{"p":"d","w":"1.165","s":0.65,"v":1.013},{"p":"d","w":"1.165","s":0.7,"v":1.013},{"p":"d","w":"1.165","s":0.75,"v":1.012},{"p":"d","w":"1.165","s":0.8,"v":1.011},{"p":"d","w":"1.165","s":0.85,"v":1.01},{"p":"d","w":"1.165","s":0.9,"v":1.009},{"p":"d","w":"1.165","s":0.95,"v":1.008},{"p":"d","w":"1.165","s":1,"v":1.007},
      {"p":"e","w":"0.715","s":-1,"v":0.998},{"p":"e","w":"0.715","s":-0.95,"v":0.998},{"p":"e","w":"0.715","s":-0.9,"v":0.998},{"p":"e","w":"0.715","s":-0.85,"v":0.998},{"p":"e","w":"0.715","s":-0.8,"v":0.998},{"p":"e","w":"0.715","s":-0.75,"v":0.998},{"p":"e","w":"0.715","s":-0.7,"v":0.998},{"p":"e","w":"0.715","s":-0.65,"v":0.998},{"p":"e","w":"0.715","s":-0.6,"v":0.998},{"p":"e","w":"0.715","s":-0.55,"v":0.998},{"p":"e","w":"0.715","s":-0.5,"v":0.998},{"p":"e","w":"0.715","s":-0.45,"v":0.998},{"p":"e","w":"0.715","s":-0.4,"v":0.998},{"p":"e","w":"0.715","s":-0.35,"v":0.998},{"p":"e","w":"0.715","s":-0.3,"v":0.998},{"p":"e","w":"0.715","s":-0.25,"v":0.998},{"p":"e","w":"0.715","s":-0.2,"v":0.998},{"p":"e","w":"0.715","s":-0.15,"v":0.998},{"p":"e","w":"0.715","s":-0.1,"v":0.998},{"p":"e","w":"0.715","s":-0.05,"v":0.998},{"p":"e","w":"0.715","s":0,"v":0.998},{"p":"e","w":"0.715","s":0.05,"v":0.998},{"p":"e","w":"0.715","s":0.1,"v":0.998},{"p":"e","w":"0.715","s":0.15,"v":0.998},{"p":"e","w":"0.715","s":0.2,"v":0.998},{"p":"e","w":"0.715","s":0.25,"v":0.998},{"p":"e","w":"0.715","s":0.3,"v":0.998},{"p":"e","w":"0.715","s":0.35,"v":0.998},{"p":"e","w":"0.715","s":0.4,"v":0.998},{"p":"e","w":"0.715","s":0.45,"v":0.998},{"p":"e","w":"0.715","s":0.5,"v":0.998},{"p":"e","w":"0.715","s":0.55,"v":0.998},{"p":"e","w":"0.715","s":0.6,"v":0.998},{"p":"e","w":"0.715","s":0.65,"v":0.998},{"p":"e","w":"0.715","s":0.7,"v":0.998},{"p":"e","w":"0.715","s":0.75,"v":0.998},{"p":"e","w":"0.715","s":0.8,"v":0.998},{"p":"e","w":"0.715","s":0.85,"v":0.998},{"p":"e","w":"0.715","s":0.9,"v":0.998},{"p":"e","w":"0.715","s":0.95,"v":0.998},{"p":"e","w":"0.715","s":1,"v":0.998},
      {"p":"e","w":"0.865","s":-1,"v":0.998},{"p":"e","w":"0.865","s":-0.95,"v":0.998},{"p":"e","w":"0.865","s":-0.9,"v":0.998},{"p":"e","w":"0.865","s":-0.85,"v":0.998},{"p":"e","w":"0.865","s":-0.8,"v":0.998},{"p":"e","w":"0.865","s":-0.75,"v":0.998},{"p":"e","w":"0.865","s":-0.7,"v":0.998},{"p":"e","w":"0.865","s":-0.65,"v":0.998},{"p":"e","w":"0.865","s":-0.6,"v":0.998},{"p":"e","w":"0.865","s":-0.55,"v":0.998},{"p":"e","w":"0.865","s":-0.5,"v":0.998},{"p":"e","w":"0.865","s":-0.45,"v":0.998},{"p":"e","w":"0.865","s":-0.4,"v":0.998},{"p":"e","w":"0.865","s":-0.35,"v":0.998},{"p":"e","w":"0.865","s":-0.3,"v":0.998},{"p":"e","w":"0.865","s":-0.25,"v":0.998},{"p":"e","w":"0.865","s":-0.2,"v":0.998},{"p":"e","w":"0.865","s":-0.15,"v":0.998},{"p":"e","w":"0.865","s":-0.1,"v":0.998},{"p":"e","w":"0.865","s":-0.05,"v":0.998},{"p":"e","w":"0.865","s":0,"v":0.998},{"p":"e","w":"0.865","s":0.05,"v":0.998},{"p":"e","w":"0.865","s":0.1,"v":0.998},{"p":"e","w":"0.865","s":0.15,"v":0.998},{"p":"e","w":"0.865","s":0.2,"v":0.998},{"p":"e","w":"0.865","s":0.25,"v":0.998},{"p":"e","w":"0.865","s":0.3,"v":0.998},{"p":"e","w":"0.865","s":0.35,"v":0.998},{"p":"e","w":"0.865","s":0.4,"v":0.998},{"p":"e","w":"0.865","s":0.45,"v":0.998},{"p":"e","w":"0.865","s":0.5,"v":0.998},{"p":"e","w":"0.865","s":0.55,"v":0.998},{"p":"e","w":"0.865","s":0.6,"v":0.998},{"p":"e","w":"0.865","s":0.65,"v":0.998},{"p":"e","w":"0.865","s":0.7,"v":0.998},{"p":"e","w":"0.865","s":0.75,"v":0.998},{"p":"e","w":"0.865","s":0.8,"v":0.998},{"p":"e","w":"0.865","s":0.85,"v":0.998},{"p":"e","w":"0.865","s":0.9,"v":0.998},{"p":"e","w":"0.865","s":0.95,"v":0.998},{"p":"e","w":"0.865","s":1,"v":0.998},
      {"p":"e","w":"1.015","s":-1,"v":0.998},{"p":"e","w":"1.015","s":-0.95,"v":0.998},{"p":"e","w":"1.015","s":-0.9,"v":0.998},{"p":"e","w":"1.015","s":-0.85,"v":0.998},{"p":"e","w":"1.015","s":-0.8,"v":0.998},{"p":"e","w":"1.015","s":-0.75,"v":0.998},{"p":"e","w":"1.015","s":-0.7,"v":0.998},{"p":"e","w":"1.015","s":-0.65,"v":0.998},{"p":"e","w":"1.015","s":-0.6,"v":0.998},{"p":"e","w":"1.015","s":-0.55,"v":0.998},{"p":"e","w":"1.015","s":-0.5,"v":0.998},{"p":"e","w":"1.015","s":-0.45,"v":0.998},{"p":"e","w":"1.015","s":-0.4,"v":0.998},{"p":"e","w":"1.015","s":-0.35,"v":0.998},{"p":"e","w":"1.015","s":-0.3,"v":0.998},{"p":"e","w":"1.015","s":-0.25,"v":0.998},{"p":"e","w":"1.015","s":-0.2,"v":0.998},{"p":"e","w":"1.015","s":-0.15,"v":0.998},{"p":"e","w":"1.015","s":-0.1,"v":0.998},{"p":"e","w":"1.015","s":-0.05,"v":0.998},{"p":"e","w":"1.015","s":0,"v":0.998},{"p":"e","w":"1.015","s":0.05,"v":0.998},{"p":"e","w":"1.015","s":0.1,"v":0.998},{"p":"e","w":"1.015","s":0.15,"v":0.998},{"p":"e","w":"1.015","s":0.2,"v":0.998},{"p":"e","w":"1.015","s":0.25,"v":0.998},{"p":"e","w":"1.015","s":0.3,"v":0.998},{"p":"e","w":"1.015","s":0.35,"v":0.998},{"p":"e","w":"1.015","s":0.4,"v":0.998},{"p":"e","w":"1.015","s":0.45,"v":0.998},{"p":"e","w":"1.015","s":0.5,"v":0.998},{"p":"e","w":"1.015","s":0.55,"v":0.998},{"p":"e","w":"1.015","s":0.6,"v":0.998},{"p":"e","w":"1.015","s":0.65,"v":0.998},{"p":"e","w":"1.015","s":0.7,"v":0.998},{"p":"e","w":"1.015","s":0.75,"v":0.998},{"p":"e","w":"1.015","s":0.8,"v":0.998},{"p":"e","w":"1.015","s":0.85,"v":0.998},{"p":"e","w":"1.015","s":0.9,"v":0.998},{"p":"e","w":"1.015","s":0.95,"v":0.998},{"p":"e","w":"1.015","s":1,"v":0.998},
      {"p":"e","w":"1.165","s":-1,"v":0.998},{"p":"e","w":"1.165","s":-0.95,"v":0.998},{"p":"e","w":"1.165","s":-0.9,"v":0.998},{"p":"e","w":"1.165","s":-0.85,"v":0.998},{"p":"e","w":"1.165","s":-0.8,"v":0.998},{"p":"e","w":"1.165","s":-0.75,"v":0.998},{"p":"e","w":"1.165","s":-0.7,"v":0.998},{"p":"e","w":"1.165","s":-0.65,"v":0.998},{"p":"e","w":"1.165","s":-0.6,"v":0.998},{"p":"e","w":"1.165","s":-0.55,"v":0.998},{"p":"e","w":"1.165","s":-0.5,"v":0.998},{"p":"e","w":"1.165","s":-0.45,"v":0.998},{"p":"e","w":"1.165","s":-0.4,"v":0.998},{"p":"e","w":"1.165","s":-0.35,"v":0.998},{"p":"e","w":"1.165","s":-0.3,"v":0.998},{"p":"e","w":"1.165","s":-0.25,"v":0.998},{"p":"e","w":"1.165","s":-0.2,"v":0.998},{"p":"e","w":"1.165","s":-0.15,"v":0.998},{"p":"e","w":"1.165","s":-0.1,"v":0.998},{"p":"e","w":"1.165","s":-0.05,"v":0.998},{"p":"e","w":"1.165","s":0,"v":0.998},{"p":"e","w":"1.165","s":0.05,"v":0.998},{"p":"e","w":"1.165","s":0.1,"v":0.998},{"p":"e","w":"1.165","s":0.15,"v":0.998},{"p":"e","w":"1.165","s":0.2,"v":0.998},{"p":"e","w":"1.165","s":0.25,"v":0.998},{"p":"e","w":"1.165","s":0.3,"v":0.998},{"p":"e","w":"1.165","s":0.35,"v":0.998},{"p":"e","w":"1.165","s":0.4,"v":0.998},{"p":"e","w":"1.165","s":0.45,"v":0.998},{"p":"e","w":"1.165","s":0.5,"v":0.998},{"p":"e","w":"1.165","s":0.55,"v":0.998},{"p":"e","w":"1.165","s":0.6,"v":0.998},{"p":"e","w":"1.165","s":0.65,"v":0.998},{"p":"e","w":"1.165","s":0.7,"v":0.998},{"p":"e","w":"1.165","s":0.75,"v":0.998},{"p":"e","w":"1.165","s":0.8,"v":0.998},{"p":"e","w":"1.165","s":0.85,"v":0.998},{"p":"e","w":"1.165","s":0.9,"v":0.998},{"p":"e","w":"1.165","s":0.95,"v":0.998},{"p":"e","w":"1.165","s":1,"v":0.998}
    ]
  },
  "spacing": 36,
  "center": true,
  "resolve": {"scale": {"color": "independent", "shape": "independent", "fill": "independent"}},
  "vconcat": [
    {
      "spacing": 118,
      "resolve": {"scale": {"color": "independent", "shape": "independent", "fill": "independent"}},
      "hconcat": [
        {
          "width": 1302, "height": 1040,
          "transform": [{"filter": "datum.p === 'a'"}],
          "title": {"text": "(a) A-A 截面壁面周向压力分布"},
          "layer": [
            {"mark": {"type": "line", "strokeWidth": 5, "clip": true},
             "encoding": {
               "x": {"field": "s", "type": "quantitative", "scale": {"domain": [-1, 1], "nice": false, "zero": false},
                     "axis": {"orient": "bottom", "values": [-1, -0.75, -0.5, -0.25, 0, 0.25, 0.5, 0.75, 1], "labelExpr": "datum.value % 0.5 !== 0 ? '' : datum.value === 0 ? '0' : format(datum.value, '.1f')", "title": "S", "labelPadding": 44, "titlePadding": 4}},
               "y": {"field": "v", "type": "quantitative", "scale": {"domain": [0.5, 2], "nice": false, "zero": false},
                     "axis": {"orient": "left", "values": [0.5, 0.75, 1, 1.25, 1.5, 1.75, 2], "labelExpr": "datum.value % 0.5 !== 0 ? '' : format(datum.value, '.1f')", "title": "p/pb", "labelPadding": 36, "titlePadding": 45}},
               "color": {"field": "w", "type": "nominal", "scale": {"domain": ["0.715", "0.865", "1.015", "1.165"], "range": ["#3f3f3f", "#ef3b3b", "#1c66e4", "#2aa85a"]}, "legend": null}
             }},
            {"mark": {"type": "point", "filled": true, "size": 420, "opacity": 1, "strokeWidth": 0, "clip": true},
             "encoding": {
               "x": {"field": "s", "type": "quantitative", "axis": null},
               "y": {"field": "v", "type": "quantitative", "axis": null},
               "color": {"field": "w", "type": "nominal", "scale": {"domain": ["0.715", "0.865", "1.015", "1.165"], "range": ["#3f3f3f", "#ef3b3b", "#1c66e4", "#2aa85a"]}, "legend": null},
               "shape": {"field": "w", "type": "nominal", "scale": {"domain": ["0.715", "0.865", "1.015", "1.165"], "range": ["square", "circle", "triangle-up", "triangle-down"]}, "legend": null}
             }},
            {"mark": {"type": "point", "filled": true, "size": 256, "opacity": 0},
             "encoding": {
               "x": {"field": "s", "type": "quantitative", "axis": {"orient": "top", "values": [-1, -0.75, -0.5, -0.25, 0, 0.25, 0.5, 0.75, 1], "labels": false, "title": null}},
               "y": {"field": "v", "type": "quantitative", "axis": {"orient": "right", "values": [0.5, 0.75, 1, 1.25, 1.5, 1.75, 2], "labels": false, "title": null}},
               "fill": {"field": "w", "type": "nominal", "scale": {"domain": ["0.715", "0.865", "1.015", "1.165"], "range": ["#3f3f3f", "#ef3b3b", "#1c66e4", "#2aa85a"]},
                        "legend": {"orient": "none", "legendX": 698, "legendY": 681, "title": null, "labelExpr": "'W₁/D=' + datum.label"}},
               "shape": {"field": "w", "type": "nominal", "scale": {"domain": ["0.715", "0.865", "1.015", "1.165"], "range": ["M-10,-0.3H10V0.3H-10ZM-1.2,-1.2H1.2V1.2H-1.2Z", "M-10,-0.3H10V0.3H-10ZM-1,0A1,1 0 1,0 1,0A1,1 0 1,0 -1,0Z", "M-10,-0.3H10V0.3H-10ZM0,-1.4L1.3,1L-1.3,1Z", "M-10,-0.3H10V0.3H-10ZM0,1.4L1.3,-1L-1.3,-1Z"]},
                         "legend": {"orient": "none", "legendX": 698, "legendY": 681, "title": null, "labelExpr": "'W₁/D=' + datum.label"}}
             }}
          ],
          "resolve": {"axis": {"x": "independent", "y": "independent"}, "scale": {"shape": "independent", "fill": "independent"}}
        },
        {
          "width": 1302, "height": 1040,
          "transform": [{"filter": "datum.p === 'b'"}],
          "title": {"text": "(b) B-B 截面壁面周向压力分布"},
          "layer": [
            {"mark": {"type": "line", "strokeWidth": 5, "clip": true},
             "encoding": {
               "x": {"field": "s", "type": "quantitative", "scale": {"domain": [-1, 1], "nice": false, "zero": false},
                     "axis": {"orient": "bottom", "values": [-1, -0.75, -0.5, -0.25, 0, 0.25, 0.5, 0.75, 1], "labelExpr": "datum.value % 0.5 !== 0 ? '' : datum.value === 0 ? '0' : format(datum.value, '.1f')", "title": "S", "labelPadding": 44, "titlePadding": 4}},
               "y": {"field": "v", "type": "quantitative", "scale": {"domain": [0.5, 2], "nice": false, "zero": false},
                     "axis": {"orient": "left", "values": [0.5, 0.75, 1, 1.25, 1.5, 1.75, 2], "labelExpr": "datum.value % 0.5 !== 0 ? '' : format(datum.value, '.1f')", "title": "p/pb", "labelPadding": 36, "titlePadding": 45}},
               "color": {"field": "w", "type": "nominal", "scale": {"domain": ["0.715", "0.865", "1.015", "1.165"], "range": ["#3f3f3f", "#ef3b3b", "#1c66e4", "#2aa85a"]}, "legend": null}
             }},
            {"mark": {"type": "point", "filled": true, "size": 420, "opacity": 1, "strokeWidth": 0, "clip": true},
             "encoding": {
               "x": {"field": "s", "type": "quantitative", "axis": null},
               "y": {"field": "v", "type": "quantitative", "axis": null},
               "color": {"field": "w", "type": "nominal", "scale": {"domain": ["0.715", "0.865", "1.015", "1.165"], "range": ["#3f3f3f", "#ef3b3b", "#1c66e4", "#2aa85a"]}, "legend": null},
               "shape": {"field": "w", "type": "nominal", "scale": {"domain": ["0.715", "0.865", "1.015", "1.165"], "range": ["square", "circle", "triangle-up", "triangle-down"]}, "legend": null}
             }},
            {"mark": {"type": "point", "filled": true, "size": 256, "opacity": 0},
             "encoding": {
               "x": {"field": "s", "type": "quantitative", "axis": {"orient": "top", "values": [-1, -0.75, -0.5, -0.25, 0, 0.25, 0.5, 0.75, 1], "labels": false, "title": null}},
               "y": {"field": "v", "type": "quantitative", "axis": {"orient": "right", "values": [0.5, 0.75, 1, 1.25, 1.5, 1.75, 2], "labels": false, "title": null}},
               "fill": {"field": "w", "type": "nominal", "scale": {"domain": ["0.715", "0.865", "1.015", "1.165"], "range": ["#3f3f3f", "#ef3b3b", "#1c66e4", "#2aa85a"]},
                        "legend": {"orient": "none", "legendX": 701, "legendY": 690, "title": null, "labelExpr": "'W₁/D=' + datum.label"}},
               "shape": {"field": "w", "type": "nominal", "scale": {"domain": ["0.715", "0.865", "1.015", "1.165"], "range": ["M-10,-0.3H10V0.3H-10ZM-1.2,-1.2H1.2V1.2H-1.2Z", "M-10,-0.3H10V0.3H-10ZM-1,0A1,1 0 1,0 1,0A1,1 0 1,0 -1,0Z", "M-10,-0.3H10V0.3H-10ZM0,-1.4L1.3,1L-1.3,1Z", "M-10,-0.3H10V0.3H-10ZM0,1.4L1.3,-1L-1.3,-1Z"]},
                         "legend": {"orient": "none", "legendX": 701, "legendY": 690, "title": null, "labelExpr": "'W₁/D=' + datum.label"}}
             }}
          ],
          "resolve": {"axis": {"x": "independent", "y": "independent"}, "scale": {"shape": "independent", "fill": "independent"}}
        }
      ]
    },
    {
      "spacing": 118,
      "resolve": {"scale": {"color": "independent", "shape": "independent", "fill": "independent"}},
      "hconcat": [
        {
          "width": 1302, "height": 1040,
          "transform": [{"filter": "datum.p === 'c'"}],
          "title": {"text": "(c) C-C 截面壁面周向压力分布"},
          "layer": [
            {"mark": {"type": "line", "strokeWidth": 5, "clip": true},
             "encoding": {
               "x": {"field": "s", "type": "quantitative", "scale": {"domain": [-1, 1], "nice": false, "zero": false},
                     "axis": {"orient": "bottom", "values": [-1, -0.75, -0.5, -0.25, 0, 0.25, 0.5, 0.75, 1], "labelExpr": "datum.value % 0.5 !== 0 ? '' : datum.value === 0 ? '0' : format(datum.value, '.1f')", "title": "S", "labelPadding": 44, "titlePadding": 4}},
               "y": {"field": "v", "type": "quantitative", "scale": {"domain": [0.5, 2], "nice": false, "zero": false},
                     "axis": {"orient": "left", "values": [0.5, 0.75, 1, 1.25, 1.5, 1.75, 2], "labelExpr": "datum.value % 0.5 !== 0 ? '' : format(datum.value, '.1f')", "title": "p/pb", "labelPadding": 36, "titlePadding": 45}},
               "color": {"field": "w", "type": "nominal", "scale": {"domain": ["0.715", "0.865", "1.015", "1.165"], "range": ["#3f3f3f", "#ef3b3b", "#1c66e4", "#2aa85a"]}, "legend": null}
             }},
            {"mark": {"type": "point", "filled": true, "size": 420, "opacity": 1, "strokeWidth": 0, "clip": true},
             "encoding": {
               "x": {"field": "s", "type": "quantitative", "axis": null},
               "y": {"field": "v", "type": "quantitative", "axis": null},
               "color": {"field": "w", "type": "nominal", "scale": {"domain": ["0.715", "0.865", "1.015", "1.165"], "range": ["#3f3f3f", "#ef3b3b", "#1c66e4", "#2aa85a"]}, "legend": null},
               "shape": {"field": "w", "type": "nominal", "scale": {"domain": ["0.715", "0.865", "1.015", "1.165"], "range": ["square", "circle", "triangle-up", "triangle-down"]}, "legend": null}
             }},
            {"mark": {"type": "point", "filled": true, "size": 256, "opacity": 0},
             "encoding": {
               "x": {"field": "s", "type": "quantitative", "axis": {"orient": "top", "values": [-1, -0.75, -0.5, -0.25, 0, 0.25, 0.5, 0.75, 1], "labels": false, "title": null}},
               "y": {"field": "v", "type": "quantitative", "axis": {"orient": "right", "values": [0.5, 0.75, 1, 1.25, 1.5, 1.75, 2], "labels": false, "title": null}},
               "fill": {"field": "w", "type": "nominal", "scale": {"domain": ["0.715", "0.865", "1.015", "1.165"], "range": ["#3f3f3f", "#ef3b3b", "#1c66e4", "#2aa85a"]},
                        "legend": {"orient": "none", "legendX": 698, "legendY": 678, "title": null, "labelExpr": "'W₁/D=' + datum.label"}},
               "shape": {"field": "w", "type": "nominal", "scale": {"domain": ["0.715", "0.865", "1.015", "1.165"], "range": ["M-10,-0.3H10V0.3H-10ZM-1.2,-1.2H1.2V1.2H-1.2Z", "M-10,-0.3H10V0.3H-10ZM-1,0A1,1 0 1,0 1,0A1,1 0 1,0 -1,0Z", "M-10,-0.3H10V0.3H-10ZM0,-1.4L1.3,1L-1.3,1Z", "M-10,-0.3H10V0.3H-10ZM0,1.4L1.3,-1L-1.3,-1Z"]},
                         "legend": {"orient": "none", "legendX": 698, "legendY": 678, "title": null, "labelExpr": "'W₁/D=' + datum.label"}}
             }}
          ],
          "resolve": {"axis": {"x": "independent", "y": "independent"}, "scale": {"shape": "independent", "fill": "independent"}}
        },
        {
          "width": 1302, "height": 1040,
          "transform": [{"filter": "datum.p === 'd'"}],
          "title": {"text": "(d) D-D 截面壁面周向压力分布"},
          "layer": [
            {"mark": {"type": "line", "strokeWidth": 5, "clip": true},
             "encoding": {
               "x": {"field": "s", "type": "quantitative", "scale": {"domain": [-1, 1], "nice": false, "zero": false},
                     "axis": {"orient": "bottom", "values": [-1, -0.75, -0.5, -0.25, 0, 0.25, 0.5, 0.75, 1], "labelExpr": "datum.value % 0.5 !== 0 ? '' : datum.value === 0 ? '0' : format(datum.value, '.1f')", "title": "S", "labelPadding": 44, "titlePadding": 4}},
               "y": {"field": "v", "type": "quantitative", "scale": {"domain": [0.5, 2], "nice": false, "zero": false},
                     "axis": {"orient": "left", "values": [0.5, 0.75, 1, 1.25, 1.5, 1.75, 2], "labelExpr": "datum.value % 0.5 !== 0 ? '' : format(datum.value, '.1f')", "title": "p/pb", "labelPadding": 36, "titlePadding": 45}},
               "color": {"field": "w", "type": "nominal", "scale": {"domain": ["0.715", "0.865", "1.015", "1.165"], "range": ["#3f3f3f", "#ef3b3b", "#1c66e4", "#2aa85a"]}, "legend": null}
             }},
            {"mark": {"type": "point", "filled": true, "size": 420, "opacity": 1, "strokeWidth": 0, "clip": true},
             "encoding": {
               "x": {"field": "s", "type": "quantitative", "axis": null},
               "y": {"field": "v", "type": "quantitative", "axis": null},
               "color": {"field": "w", "type": "nominal", "scale": {"domain": ["0.715", "0.865", "1.015", "1.165"], "range": ["#3f3f3f", "#ef3b3b", "#1c66e4", "#2aa85a"]}, "legend": null},
               "shape": {"field": "w", "type": "nominal", "scale": {"domain": ["0.715", "0.865", "1.015", "1.165"], "range": ["square", "circle", "triangle-up", "triangle-down"]}, "legend": null}
             }},
            {"mark": {"type": "point", "filled": true, "size": 256, "opacity": 0},
             "encoding": {
               "x": {"field": "s", "type": "quantitative", "axis": {"orient": "top", "values": [-1, -0.75, -0.5, -0.25, 0, 0.25, 0.5, 0.75, 1], "labels": false, "title": null}},
               "y": {"field": "v", "type": "quantitative", "axis": {"orient": "right", "values": [0.5, 0.75, 1, 1.25, 1.5, 1.75, 2], "labels": false, "title": null}},
               "fill": {"field": "w", "type": "nominal", "scale": {"domain": ["0.715", "0.865", "1.015", "1.165"], "range": ["#3f3f3f", "#ef3b3b", "#1c66e4", "#2aa85a"]},
                        "legend": {"orient": "none", "legendX": 114, "legendY": 101, "title": null, "labelExpr": "'W₁/D=' + datum.label"}},
               "shape": {"field": "w", "type": "nominal", "scale": {"domain": ["0.715", "0.865", "1.015", "1.165"], "range": ["M-10,-0.3H10V0.3H-10ZM-1.2,-1.2H1.2V1.2H-1.2Z", "M-10,-0.3H10V0.3H-10ZM-1,0A1,1 0 1,0 1,0A1,1 0 1,0 -1,0Z", "M-10,-0.3H10V0.3H-10ZM0,-1.4L1.3,1L-1.3,1Z", "M-10,-0.3H10V0.3H-10ZM0,1.4L1.3,-1L-1.3,-1Z"]},
                         "legend": {"orient": "none", "legendX": 114, "legendY": 101, "title": null, "labelExpr": "'W₁/D=' + datum.label"}}
             }}
          ],
          "resolve": {"axis": {"x": "independent", "y": "independent"}, "scale": {"shape": "independent", "fill": "independent"}}
        }
      ]
    },
    {
      "width": 1302, "height": 1040,
      "transform": [{"filter": "datum.p === 'e'"}],
      "title": {"text": "(e) E-E 截面壁面周向压力分布"},
      "layer": [
        {"mark": {"type": "line", "strokeWidth": 5, "clip": true},
         "encoding": {
           "x": {"field": "s", "type": "quantitative", "scale": {"domain": [-1, 1], "nice": false, "zero": false},
                 "axis": {"orient": "bottom", "values": [-1, -0.75, -0.5, -0.25, 0, 0.25, 0.5, 0.75, 1], "labelExpr": "datum.value % 0.5 !== 0 ? '' : datum.value === 0 ? '0' : format(datum.value, '.1f')", "title": "S", "labelPadding": 44, "titlePadding": 4}},
           "y": {"field": "v", "type": "quantitative", "scale": {"domain": [0.5, 2], "nice": false, "zero": false},
                 "axis": {"orient": "left", "values": [0.5, 0.75, 1, 1.25, 1.5, 1.75, 2], "labelExpr": "datum.value % 0.5 !== 0 ? '' : format(datum.value, '.1f')", "title": "p/pb", "labelPadding": 36, "titlePadding": 45}},
           "color": {"field": "w", "type": "nominal", "scale": {"domain": ["0.715", "0.865", "1.015", "1.165"], "range": ["#3f3f3f", "#ef3b3b", "#1c66e4", "#2aa85a"]}, "legend": null}
         }},
        {"mark": {"type": "point", "filled": true, "size": 420, "opacity": 1, "strokeWidth": 0, "clip": true},
         "encoding": {
           "x": {"field": "s", "type": "quantitative", "axis": null},
           "y": {"field": "v", "type": "quantitative", "axis": null},
           "color": {"field": "w", "type": "nominal", "scale": {"domain": ["0.715", "0.865", "1.015", "1.165"], "range": ["#3f3f3f", "#ef3b3b", "#1c66e4", "#2aa85a"]}, "legend": null},
           "shape": {"field": "w", "type": "nominal", "scale": {"domain": ["0.715", "0.865", "1.015", "1.165"], "range": ["square", "circle", "triangle-up", "triangle-down"]}, "legend": null}
         }},
        {"mark": {"type": "point", "filled": true, "size": 256, "opacity": 0},
         "encoding": {
           "x": {"field": "s", "type": "quantitative", "axis": {"orient": "top", "values": [-1, -0.75, -0.5, -0.25, 0, 0.25, 0.5, 0.75, 1], "labels": false, "title": null}},
           "y": {"field": "v", "type": "quantitative", "axis": {"orient": "right", "values": [0.5, 0.75, 1, 1.25, 1.5, 1.75, 2], "labels": false, "title": null}},
           "fill": {"field": "w", "type": "nominal", "scale": {"domain": ["0.715", "0.865", "1.015", "1.165"], "range": ["#3f3f3f", "#ef3b3b", "#1c66e4", "#2aa85a"]},
                    "legend": {"orient": "none", "legendX": 114, "legendY": 69, "title": null, "labelExpr": "'W₁/D=' + datum.label"}},
           "shape": {"field": "w", "type": "nominal", "scale": {"domain": ["0.715", "0.865", "1.015", "1.165"], "range": ["M-10,-0.3H10V0.3H-10ZM-1.2,-1.2H1.2V1.2H-1.2Z", "M-10,-0.3H10V0.3H-10ZM-1,0A1,1 0 1,0 1,0A1,1 0 1,0 -1,0Z", "M-10,-0.3H10V0.3H-10ZM0,-1.4L1.3,1L-1.3,1Z", "M-10,-0.3H10V0.3H-10ZM0,1.4L1.3,-1L-1.3,-1Z"]},
                     "legend": {"orient": "none", "legendX": 114, "legendY": 69, "title": null, "labelExpr": "'W₁/D=' + datum.label"}}
         }}
      ],
      "resolve": {"axis": {"x": "independent", "y": "independent"}, "scale": {"shape": "independent", "fill": "independent"}}
    }
  ],
  "config": {
    "font": "Liberation Serif, Noto Sans CJK SC",
    "view": {"stroke": "black", "strokeWidth": 4},
    "axis": {
      "grid": false, "domain": false,
      "tickColor": "black", "tickWidth": 4, "tickSize": -16,
      "labelFont": "Liberation Serif", "labelFontSize": 66, "labelColor": "black",
      "labelFlush": false, "labelOverlap": false, "labelBound": false,
      "titleFont": "Liberation Serif", "titleFontSize": 70, "titleFontWeight": "normal", "titleFontStyle": "italic", "titleColor": "black"
    },
    "legend": {
      "labelFont": "Liberation Serif", "labelFontSize": 62, "labelColor": "black", "labelLimit": 2000,
      "symbolSize": 256, "symbolStrokeWidth": 0, "symbolOpacity": 1, "symbolOffset": 51, "labelOffset": 65,
      "rowPadding": 10, "padding": 0
    },
    "title": {
      "orient": "bottom", "anchor": "middle", "frame": "group",
      "font": "Liberation Serif, Noto Sans CJK SC", "fontSize": 64, "fontWeight": "normal", "color": "black", "offset": 18
    }
  }
}
